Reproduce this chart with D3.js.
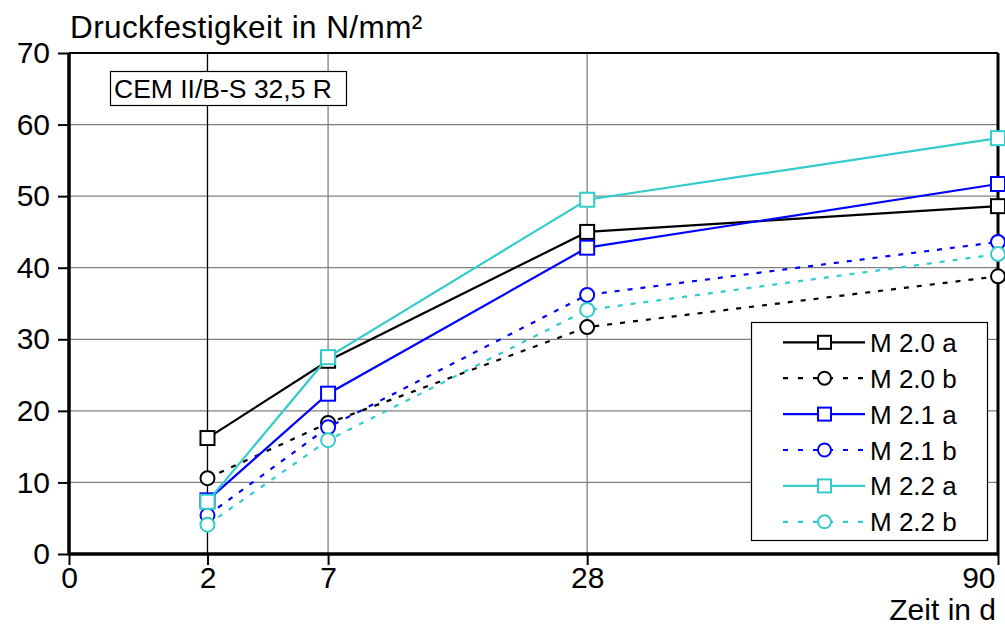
<!DOCTYPE html>
<html><head><meta charset="utf-8">
<script src="https://cdn.jsdelivr.net/npm/d3@7"></script>
<style>body{margin:0;background:#fff}svg{display:block}text{font-family:"Liberation Sans",Arial,sans-serif}</style>
</head><body>
<svg id="c" width="1005" height="630"></svg>
<script>
const days = [2, 7, 28, 90];
const xTicks = [0, 2, 7, 28, 90];
const yTicks = [0, 10, 20, 30, 40, 50, 60, 70];
const seriesNames = ["M 2.0 a", "M 2.0 b", "M 2.1 a", "M 2.1 b", "M 2.2 a", "M 2.2 b"];
const m20a = [16.2, 27.0, 45.0, 48.6];
const m20b = [10.6, 18.3, 31.7, 38.8];
const m21a = [7.5, 22.4, 42.8, 51.7];
const m21b = [5.4, 17.7, 36.2, 43.6];
const m22a = [7.3, 27.5, 49.5, 58.1];
const m22b = [4.1, 15.9, 34.1, 41.9];
const seriesValues = [m20a, m20b, m21a, m21b, m22a, m22b];
const colors = ["#000000", "#000000", "#0000ff", "#0000ff", "#33cccc", "#33cccc"];
const shapes = ["square", "circle", "square", "circle", "square", "circle"];
const dashed = [false, true, false, true, false, true];

const svg = d3.select("#c");
const L = 69, R = 998, T = 53, B = 554;
const x = d3.scaleSqrt().domain([0, 90]).range([L, R]);
const y = d3.scaleLinear().domain([0, 70]).range([B, T]);
const FONT = '"Liberation Sans",Arial,sans-serif';

// gridlines
svg.append("g").selectAll("line").data(yTicks.filter(d => d > 0 && d < 70)).join("line")
  .attr("x1", L).attr("x2", R).attr("y1", d => y(d)).attr("y2", d => y(d))
  .attr("stroke", "#808080").attr("stroke-width", 1.3);
svg.append("g").selectAll("line").data(xTicks.filter(d => d > 0 && d < 90)).join("line")
  .attr("x1", d => x(d)).attr("x2", d => x(d)).attr("y1", T).attr("y2", B)
  .attr("stroke", d => d === 2 ? "#000" : "#808080").attr("stroke-width", 1.3);

// top border and right border
svg.append("line").attr("x1", L).attr("x2", R).attr("y1", T).attr("y2", T).attr("stroke", "#000").attr("stroke-width", 2);
svg.append("line").attr("x1", R).attr("x2", R).attr("y1", T).attr("y2", B).attr("stroke", "#000").attr("stroke-width", 3);

// axes
const yAxis = d3.axisLeft(y).tickValues(yTicks).tickSize(11).tickPadding(8);
const gy = svg.append("g").attr("transform", `translate(${L},0)`).call(yAxis);
const xAxis = d3.axisBottom(x).tickValues(xTicks).tickSize(11).tickPadding(2);
const gx = svg.append("g").attr("transform", `translate(0,${B})`).call(xAxis);
[gy, gx].forEach(g => {
  g.attr("font-size", null).attr("font-family", null);
  g.select(".domain").attr("stroke", "#000").attr("stroke-width", 3.5);
  g.selectAll(".tick line").attr("stroke", "#000").attr("stroke-width", 2);
  g.selectAll(".tick text").attr("fill", "#000").style("font-size", "30px").style("font-family", FONT);
});
gx.select(".domain").attr("d", `M${L},0H${R}`);
gy.select(".domain").attr("d", `M0,${B}V${T}`);
gx.selectAll(".tick text").filter(d => d === 90).attr("text-anchor", "end").attr("x", -3);

// series
const line = d3.line().x(d => x(d[0])).y(d => y(d[1]));
function marker(g, shape, color, cx, cy, s) {
  if (shape === "square") {
    g.append("rect").attr("x", cx - s).attr("y", cy - s).attr("width", 2 * s).attr("height", 2 * s)
      .attr("fill", "#fff").attr("stroke", color).attr("stroke-width", 2);
  } else {
    g.append("circle").attr("cx", cx).attr("cy", cy).attr("r", s)
      .attr("fill", "#fff").attr("stroke", color).attr("stroke-width", 2);
  }
}
seriesValues.forEach((vals, i) => {
  const pts = days.map((d, j) => [d, vals[j]]);
  const g = svg.append("g");
  g.append("path").attr("d", line(pts)).attr("fill", "none").attr("stroke", colors[i])
    .attr("stroke-width", 2.2).attr("stroke-dasharray", dashed[i] ? "5,8" : null);
  pts.forEach(p => marker(g, shapes[i], colors[i], x(p[0]), y(p[1]), 7));
});

// labels
svg.append("text").attr("x", 70).attr("y", 38).style("font-size", "31.5px").style("letter-spacing", "0.4px").text("Druckfestigkeit in N/mm²");
svg.append("text").attr("x", 996).attr("y", 620).attr("text-anchor", "end").style("font-size", "30px").text("Zeit in d");

// CEM box
svg.append("rect").attr("x", 110.5).attr("y", 71.5).attr("width", 236).attr("height", 34)
  .attr("fill", "#fff").attr("stroke", "#000").attr("stroke-width", 1.2);
svg.append("text").attr("x", 114).attr("y", 98).style("font-size", "26.5px").text("CEM II/B-S 32,5 R");

// legend
const lg = svg.append("g");
lg.append("rect").attr("x", 751.5).attr("y", 322.5).attr("width", 236).attr("height", 218)
  .attr("fill", "#fff").attr("stroke", "#000").attr("stroke-width", 1.2);
seriesNames.forEach((n, i) => {
  const cy = 342.3 + i * 35.9;
  lg.append("line").attr("x1", 783).attr("x2", 865).attr("y1", cy).attr("y2", cy)
    .attr("stroke", colors[i]).attr("stroke-width", 2.2).attr("stroke-dasharray", dashed[i] ? "5,10" : null);
  marker(lg, shapes[i], colors[i], 824.5, cy, 6.5);
  lg.append("text").attr("x", 870).attr("y", cy + 9.5).style("font-size", "26px").text(n);
});
</script>
</body></html>
